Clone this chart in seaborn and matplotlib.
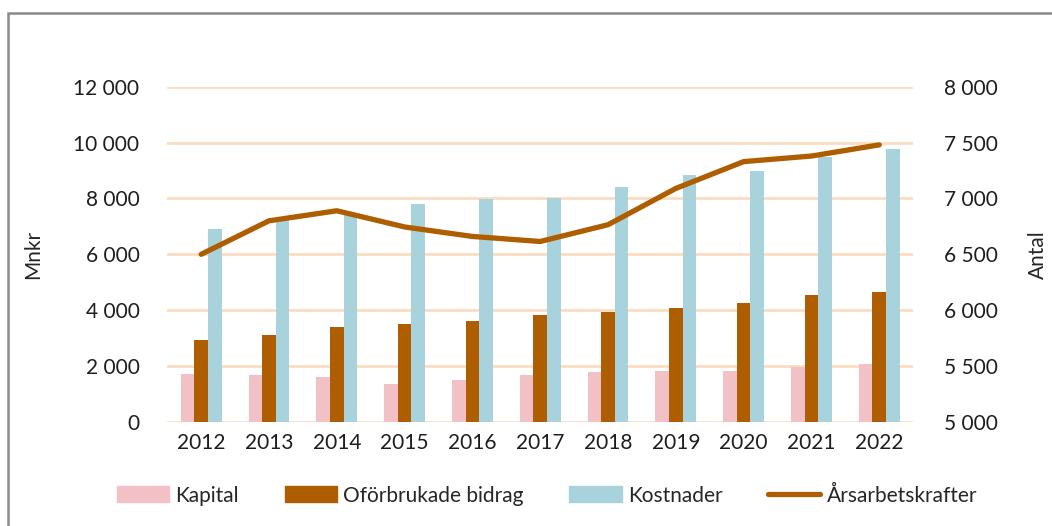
import pandas as pd
import numpy as np
import matplotlib.pyplot as plt
import seaborn as sns
from matplotlib.patches import Rectangle, Patch
from matplotlib.lines import Line2D
from matplotlib.ticker import FuncFormatter

# values
years = ["2012", "2013", "2014", "2015", "2016", "2017", "2018", "2019", "2020", "2021", "2022"]
kapital = [1720, 1670, 1620, 1360, 1500, 1670, 1770, 1820, 1820, 1960, 2080]
bidrag = [2940, 3110, 3390, 3520, 3600, 3830, 3930, 4060, 4240, 4550, 4650]
kostnader = [6900, 7250, 7450, 7790, 7970, 8000, 8410, 8830, 9000, 9500, 9770]
arsarbetskrafter = [6500, 6800, 6890, 6745, 6660, 6615, 6765, 7090, 7330, 7380, 7480]

series = ["Kapital", "Oförbrukade bidrag", "Kostnader"]
colors = ["#F2C1C5", "#AE5E00", "#A9D3DC"]
line_color = "#AE5E00"
grid_color = "#FBDDC2"

df = pd.DataFrame({"År": years, "Kapital": kapital,
                   "Oförbrukade bidrag": bidrag, "Kostnader": kostnader})
long = df.melt(id_vars="År", var_name="Serie", value_name="Mnkr")

sns.set_style("white")
plt.rcParams["font.family"] = ["Lato", "DejaVu Sans"]
fs = 15

fig = plt.figure(figsize=(10.52, 5.26), dpi=100)
ax = fig.add_axes([0.159, 0.198, 0.709, 0.637])

sns.barplot(data=long, x="År", y="Mnkr", hue="Serie", hue_order=series,
            palette=colors, width=0.6, gap=0, saturation=1, linewidth=0,
            ax=ax, legend=False, zorder=3)
ax.set_ylim(0, 12000)
ax.set_yticks(range(0, 12001, 2000))
ax.grid(axis="y", color=grid_color, linewidth=2, zorder=0)
ax.set_axisbelow(True)

# thousands separated by a space, as in the original
fmt = FuncFormatter(lambda v, p: f"{int(v):,}".replace(",", " "))
ax.yaxis.set_major_formatter(fmt)
ax.tick_params(axis="y", length=0, pad=20, labelsize=fs, labelcolor="#1E1E1E")
ax.tick_params(axis="x", length=0, pad=8, labelsize=fs, labelcolor="#1E1E1E")
ax.set_xlabel("")
ax.set_ylabel("Mnkr", fontsize=fs, labelpad=22)
for s in ax.spines.values():
    s.set_visible(False)

ax2 = ax.twinx()
sns.lineplot(x=np.arange(len(years)), y=arsarbetskrafter, color=line_color,
             linewidth=3.8, ax=ax2, solid_capstyle="round", zorder=4)
ax2.set_ylim(5000, 8000)
ax2.set_yticks(range(5000, 8001, 500))
ax2.yaxis.set_major_formatter(fmt)
ax2.tick_params(axis="y", length=0, pad=22, labelsize=fs, labelcolor="#1E1E1E")
ax2.set_ylabel("Antal", fontsize=fs, labelpad=22)
for s in ax2.spines.values():
    s.set_visible(False)
ax.set_xlim(-0.5, len(years) - 0.5)

handles = [Patch(color=c) for c in colors] + [Line2D([], [], color=line_color, linewidth=3.8)]
labels = series + ["Årsarbetskrafter"]
fig.legend(handles, labels, loc="center", bbox_to_anchor=(0.52, 0.058), ncol=4,
           frameon=False, fontsize=fs, handlelength=2.5, handleheight=0.8,
           columnspacing=2.2, handletextpad=0.3)

fig.patches.append(Rectangle((8 / 1052, -0.05), 1.1, 1.05 - 13 / 526,
                             transform=fig.transFigure, fill=False,
                             edgecolor="#8A8A8A", linewidth=1.8))

fig.savefig("out.png", dpi=100)
